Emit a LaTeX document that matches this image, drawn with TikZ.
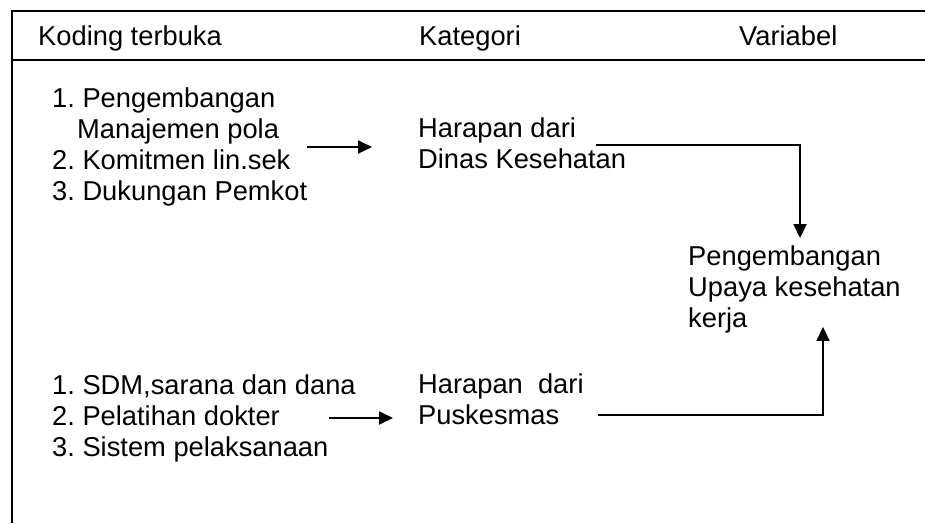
\documentclass[tikz,border=0pt]{standalone}
\usepackage{fontspec}
\setmainfont{Liberation Sans}
\usetikzlibrary{arrows.meta,positioning}
\frenchspacing

\begin{document}
\begin{tikzpicture}[x=1pt,y=-1pt,
		txt/.style={anchor=west,inner sep=0pt,align=left,font=\fontsize{27.3}{31}\selectfont},
		arr/.style={line width=1.8pt,-{Triangle[length=14pt,width=13pt]}},
		frame/.style={line width=1.8pt}]
	
	\useasboundingbox (0,0) rectangle (925,523);
	
	% table frame
	\draw[frame] (925,11) -- (12,11) -- (12,523);
	\draw[frame] (12,60) -- (925,60);
	
	% headers
	\node[txt,anchor=base west] (koding) at (38,45) {Koding terbuka};
	\node[txt,anchor=base west] (kategori) at (419,45) {Kategori};
	\node[txt,anchor=base west] (variabel) at (739,45) {Variabel};
	
	% upper row
	\node[txt] (kodeA) at (52,147) {1. Pengembangan\\\hspace*{25pt}Manajemen pola\\2. Komitmen lin.sek\\3. Dukungan Pemkot};
	\node[txt] (harapA) at (418,143) {Harapan dari\\Dinas Kesehatan};
	
	% variable
	\node[txt] (var) at (688,289) {Pengembangan\\Upaya kesehatan\\kerja};
	
	% lower row
	\node[txt] (kodeB) at (52,418) {1. SDM,sarana dan dana\\2. Pelatihan dokter\\3. Sistem pelaksanaan};
	\node[txt] (harapB) at (418,399) {Harapan\ \ dari\\Puskesmas};
	
	\draw[arr,shorten >=46pt] (kodeA.east) -- (kodeA.east -| harapA.west);
	\draw[arr] ([xshift=-30pt,yshift=-2pt]harapA.east) -| ([xshift=112pt,yshift=7pt]var.north west);
	\draw[arr] ([xshift=14pt,yshift=-16pt]harapB.east) -| ([xshift=135pt,yshift=6pt]var.south west);
	\draw[arr,shorten >=25pt] ([xshift=-27pt]kodeB.east) -- (kodeB.east -| harapB.west);
	
\end{tikzpicture}
\end{document}
